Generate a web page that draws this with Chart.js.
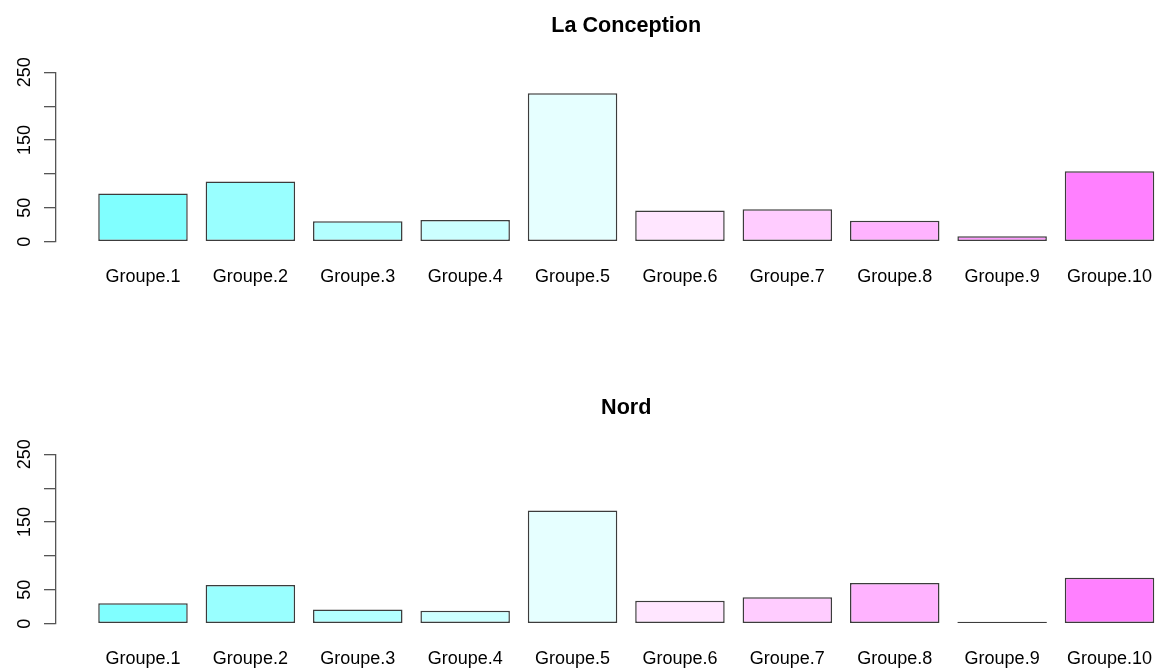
<!DOCTYPE html>
<html>
<head>
<meta charset="utf-8">
<script src="https://cdn.jsdelivr.net/npm/chart.js@4.4.1/dist/chart.umd.min.js"></script>
<style>
  html, body { margin: 0; padding: 0; background: #fff; overflow: hidden; }
  body { width: 1158px; height: 668px; position: relative; }
  canvas { position: absolute; left: 0; }
  #chartTop { top: 0; }
  #chartBottom { top: 382px; }
</style>
</head>
<body>
<canvas id="chartTop" width="1200" height="300"></canvas>
<canvas id="chartBottom" width="1200" height="300"></canvas>
<script>
const groups = ["Groupe.1", "Groupe.2", "Groupe.3", "Groupe.4", "Groupe.5",
  "Groupe.6", "Groupe.7", "Groupe.8", "Groupe.9", "Groupe.10"];
const laConception = [71, 89, 30, 32, 219, 46, 48, 31, 8, 104];
const nord = [30, 57, 21, 19, 167, 34, 39, 60, 3, 68];
// cm.colors(10)
const barColors = ["#80FFFF", "#99FFFF", "#B3FFFF", "#CCFFFF", "#E6FFFF",
  "#FFE6FF", "#FFCCFF", "#FFB3FF", "#FF99FF", "#FF80FF"];
const yTicks = [0, 50, 100, 150, 200, 250];
const yLabelled = [0, 50, 150, 250]; // R drops 100 and 200 (overlap)

// barplot layout: bar width 1, space 0.2 -> centers at 0.7, 1.9, ...
const barPos = groups.map((g, i) => 0.7 + i * 1.2);

const font = "'Liberation Sans', Arial, Helvetica, sans-serif";

function makeChart(id, title, values) {
  return new Chart(id, {
    type: "bar",
    data: {
      datasets: [
        {
          data: values.map((v, i) => ({ x: barPos[i], y: v })),
          backgroundColor: barColors,
          borderColor: "#3c3c3c",
          borderWidth: 1.5,
          borderSkipped: false,
          barPercentage: 1 / 1.2,
          categoryPercentage: 1,
          clip: false,
        },
      ],
    },
    options: {
      responsive: false,
      animation: false,
      layout: { padding: { left: 0, right: 3.5, top: 0, bottom: 0 } },
      scales: {
        x: {
          type: "linear",
          offset: false,
          min: -0.272,
          max: 12.472,
          afterBuildTicks: (scale) => {
            scale.ticks = barPos.map((v) => ({ value: v }));
          },
          afterFit: (scale) => {
            scale.height = 58.3;
          },
          grid: { display: false },
          border: { display: false },
          ticks: {
            autoSkip: false,
            maxRotation: 0,
            minRotation: 0,
            padding: 17,
            color: "#000",
            font: { family: font, size: 18 },
            callback: (v, i) => groups[i],
          },
        },
        y: {
          min: 0,
          max: 250,
          afterBuildTicks: (scale) => {
            scale.ticks = yTicks.map((v) => ({ value: v }));
          },
          afterFit: (scale) => {
            scale.width = 56;
          },
          grid: {
            drawOnChartArea: false,
            drawTicks: true,
            tickLength: 12,
            color: "#555",
            lineWidth: 1.3,
          },
          border: { display: true, color: "#555", width: 1.3 },
          ticks: {
            minRotation: 90,
            maxRotation: 90,
            crossAlign: "center",
            padding: 3.5,
            color: "#000",
            font: { family: font, size: 18 },
            callback: (v) => (yLabelled.includes(v) ? String(v) : ""),
          },
        },
      },
      plugins: {
        legend: { display: false },
        tooltip: { enabled: false },
        title: {
          display: true,
          text: title,
          fullSize: false,
          color: "#000",
          font: { family: font, size: 21.6, weight: "bold", lineHeight: 1.2 },
          padding: { top: 12.8, bottom: 33.6 },
        },
      },
    },
  });
}

makeChart("chartTop", "La Conception", laConception);
makeChart("chartBottom", "Nord", nord);
</script>
</body>
</html>
